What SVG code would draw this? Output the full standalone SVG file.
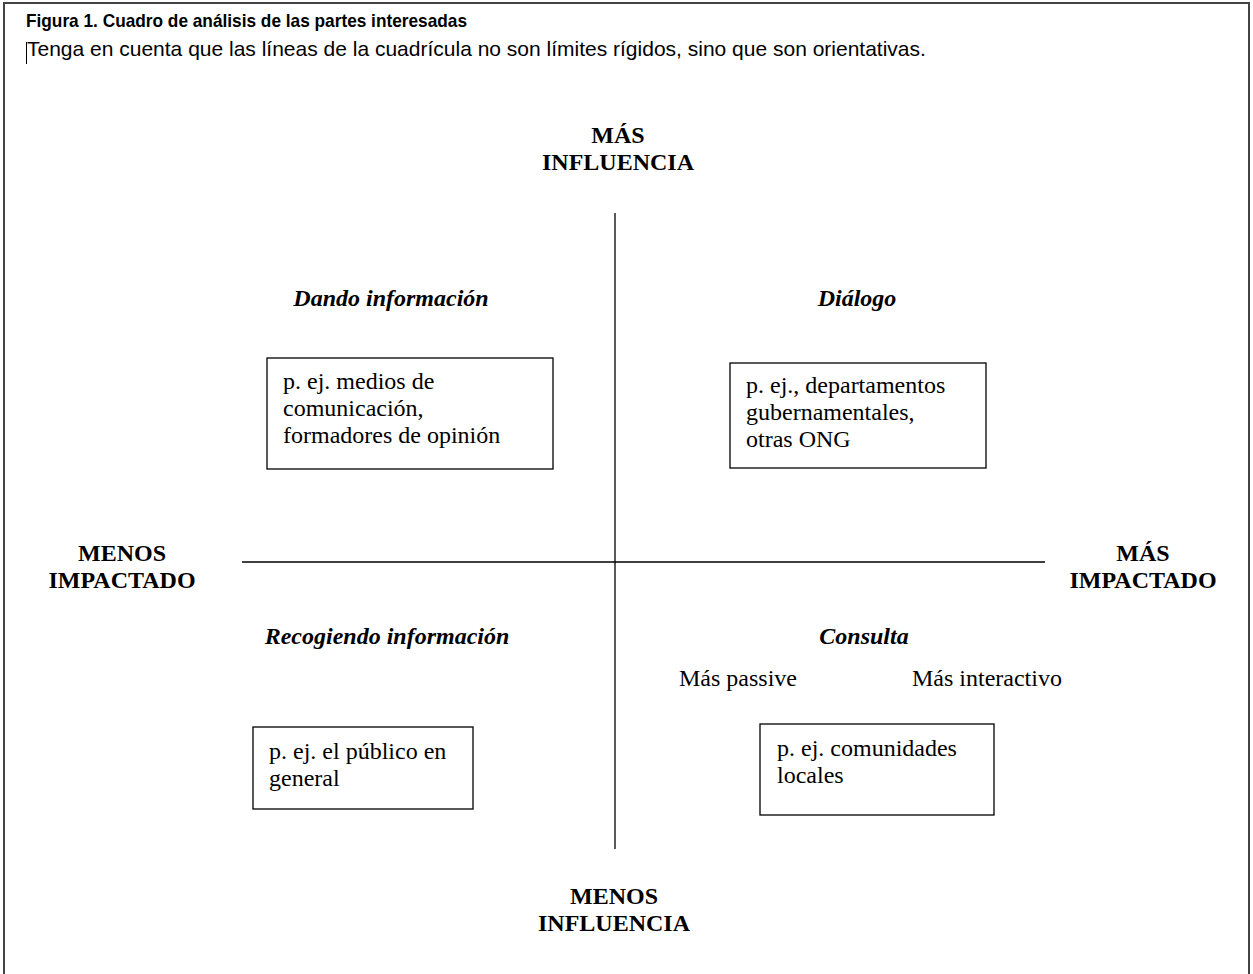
<svg xmlns="http://www.w3.org/2000/svg" width="1253" height="974" viewBox="0 0 1253 974">
<style>
.hdr{font-family:"Liberation Sans",Arial,sans-serif;fill:#000}
.b{font-weight:bold;font-size:19px}
.s{font-size:21px}
.ax{font-family:"Liberation Serif","Times New Roman",serif;font-size:24px;font-weight:bold;fill:#000;text-anchor:middle}
.q{font-family:"Liberation Serif","Times New Roman",serif;font-size:24px;font-weight:bold;font-style:italic;fill:#000;text-anchor:middle}
.t{font-family:"Liberation Serif","Times New Roman",serif;font-size:24px;fill:#000}
.box{fill:#fff;stroke:#000;stroke-width:1.3}
.ln{stroke:#000;stroke-width:1.3;fill:none}
</style>
<rect x="0" y="0" width="1253" height="974" fill="#fff"/>
<rect x="4" y="3" width="1245" height="1000" fill="none" stroke="#444" stroke-width="2"/>
<g id="header">
<text class="hdr b" x="26" y="27" textLength="441" lengthAdjust="spacingAndGlyphs">Figura 1. Cuadro de análisis de las partes interesadas</text>
<text class="hdr s" x="27" y="56">Tenga en cuenta que las líneas de la cuadrícula no son límites rígidos, sino que son orientativas.</text>
<line x1="26.5" y1="42" x2="26.5" y2="64" stroke="#000" stroke-width="1"/>
</g>
<g id="connectors">
<line class="ln" x1="615" y1="213" x2="615" y2="849"/>
<line class="ln" x1="242" y1="562" x2="1045" y2="562"/>
</g>
<g id="axis-top"><text class="ax" x="618" y="143">MÁS</text><text class="ax" x="618" y="170">INFLUENCIA</text></g>
<g id="axis-bottom"><text class="ax" x="614" y="904">MENOS</text><text class="ax" x="614" y="931">INFLUENCIA</text></g>
<g id="axis-left"><text class="ax" x="122" y="561">MENOS</text><text class="ax" x="122" y="588">IMPACTADO</text></g>
<g id="axis-right"><text class="ax" x="1143" y="561">MÁS</text><text class="ax" x="1143" y="588">IMPACTADO</text></g>
<g id="q-dando"><text class="q" x="391" y="306">Dando información</text></g>
<g id="q-dialogo"><text class="q" x="857" y="306">Diálogo</text></g>
<g id="q-recogiendo"><text class="q" x="387" y="644">Recogiendo información</text></g>
<g id="q-consulta"><text class="q" x="864" y="644">Consulta</text>
<text class="t" x="679" y="686">Más passive</text><text class="t" x="912" y="686">Más interactivo</text></g>
<g id="box-medios"><rect class="box" x="267" y="358" width="286" height="111"/>
<text class="t" x="283" y="389">p. ej. medios de</text><text class="t" x="283" y="416">comunicación,</text><text class="t" x="283" y="443">formadores de opinión</text></g>
<g id="box-gob"><rect class="box" x="730" y="363" width="256" height="105"/>
<text class="t" x="746" y="393">p. ej., departamentos</text><text class="t" x="746" y="420">gubernamentales,</text><text class="t" x="746" y="447">otras ONG</text></g>
<g id="box-publico"><rect class="box" x="253" y="727" width="220" height="82"/>
<text class="t" x="269" y="759">p. ej. el público en</text><text class="t" x="269" y="786">general</text></g>
<g id="box-comunidades"><rect class="box" x="760" y="724" width="234" height="91"/>
<text class="t" x="777" y="756">p. ej. comunidades</text><text class="t" x="777" y="783">locales</text></g>
</svg>
